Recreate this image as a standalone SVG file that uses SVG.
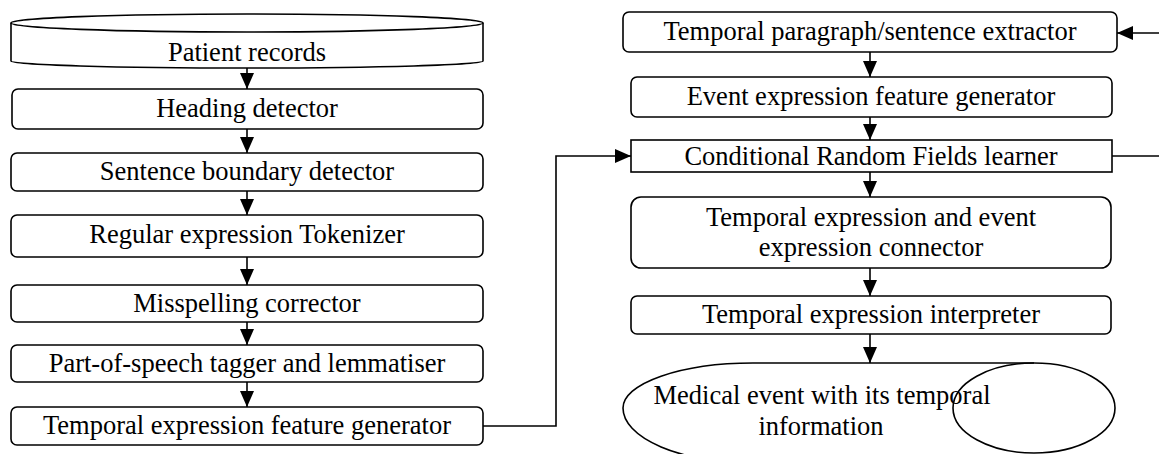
<svg xmlns="http://www.w3.org/2000/svg" width="1159" height="454" viewBox="0 0 1159 454">
  <style>
    .box { fill: #fff; stroke: #000; stroke-width: 1.6; }
    .lbl { font-family: "Liberation Serif", "Times New Roman", serif; font-size: 26.5px; fill: #000; text-anchor: middle; }
    .wire { fill: none; stroke: #000; stroke-width: 1.6; }
  </style>
  <defs>
    <marker id="head" viewBox="0 0 16 14" refX="16" refY="7" markerWidth="16" markerHeight="14" markerUnits="userSpaceOnUse" orient="auto">
      <path d="M0,0 L16,7 L0,14 Z" fill="#000"/>
    </marker>
  </defs>

  <!-- left pipeline -->
  <g id="patient-records">
    <path class="box" d="M11,23 L11,61 A236,7 0 0 0 483,61 L483,23"/>
    <ellipse class="box" cx="247" cy="23" rx="236" ry="9"/>
    <text class="lbl" x="247" y="61">Patient records</text>
  </g>
  <g id="heading-detector">
    <rect class="box" x="12" y="89" width="471" height="40" rx="6"/>
    <text class="lbl" x="247" y="117">Heading detector</text>
  </g>
  <g id="sentence-boundary">
    <rect class="box" x="11" y="153" width="472" height="38" rx="6"/>
    <text class="lbl" x="247" y="180">Sentence boundary detector</text>
  </g>
  <g id="tokenizer">
    <rect class="box" x="11" y="215" width="472" height="42" rx="6"/>
    <text class="lbl" x="247" y="243">Regular expression Tokenizer</text>
  </g>
  <g id="misspelling">
    <rect class="box" x="11" y="285" width="472" height="37" rx="6"/>
    <text class="lbl" x="247" y="312">Misspelling corrector</text>
  </g>
  <g id="pos-tagger">
    <rect class="box" x="11" y="345" width="472" height="37" rx="6"/>
    <text class="lbl" x="247" y="372">Part-of-speech tagger and lemmatiser</text>
  </g>
  <g id="temporal-feature">
    <rect class="box" x="11" y="407" width="472" height="38" rx="6"/>
    <text class="lbl" x="247" y="434">Temporal expression feature generator</text>
  </g>

  <!-- right pipeline -->
  <g id="paragraph-extractor">
    <rect class="box" x="623" y="12" width="494" height="40" rx="6"/>
    <text class="lbl" x="870" y="40">Temporal paragraph/sentence extractor</text>
  </g>
  <g id="event-feature">
    <rect class="box" x="631" y="77" width="481" height="40" rx="6"/>
    <text class="lbl" x="871" y="105">Event expression feature generator</text>
  </g>
  <g id="crf-learner">
    <rect class="box" x="631" y="140" width="481" height="32"/>
    <text class="lbl" x="871" y="165">Conditional Random Fields learner</text>
  </g>
  <g id="expression-connector">
    <rect class="box" x="631" y="197" width="480" height="71" rx="10"/>
    <text class="lbl" x="871" y="226">Temporal expression and event</text>
    <text class="lbl" x="871" y="256">expression connector</text>
  </g>
  <g id="interpreter">
    <rect class="box" x="631" y="296" width="480" height="38" rx="6"/>
    <text class="lbl" x="871" y="323">Temporal expression interpreter</text>
  </g>
  <g id="medical-event">
    <path class="wire" d="M753,363 A130,45 0 0 0 623,408 A130,55 0 0 0 753,463 M753,363 L1034,363"/>
    <ellipse class="wire" cx="1034" cy="408" rx="81" ry="45"/>
    <text class="lbl" x="822" y="404">Medical event with its temporal</text>
    <text class="lbl" x="821" y="435">information</text>
  </g>

  <!-- connectors -->
  <g id="connectors" class="wire" marker-end="url(#head)">
    <line x1="247" y1="68" x2="247" y2="89"/>
    <line x1="247" y1="129" x2="247" y2="153"/>
    <line x1="247" y1="191" x2="247" y2="215"/>
    <line x1="247" y1="257" x2="247" y2="285"/>
    <line x1="247" y1="322" x2="247" y2="345"/>
    <line x1="247" y1="382" x2="247" y2="407"/>
    <path d="M483,426 H556 V156 H631"/>
    <line x1="870" y1="52" x2="870" y2="77"/>
    <line x1="870" y1="117" x2="870" y2="140"/>
    <line x1="870" y1="172" x2="870" y2="197"/>
    <line x1="870" y1="268" x2="870" y2="296"/>
    <line x1="870" y1="334" x2="870" y2="363"/>
    <path d="M1112,156 H1168 V33 H1117"/>
  </g>
</svg>
